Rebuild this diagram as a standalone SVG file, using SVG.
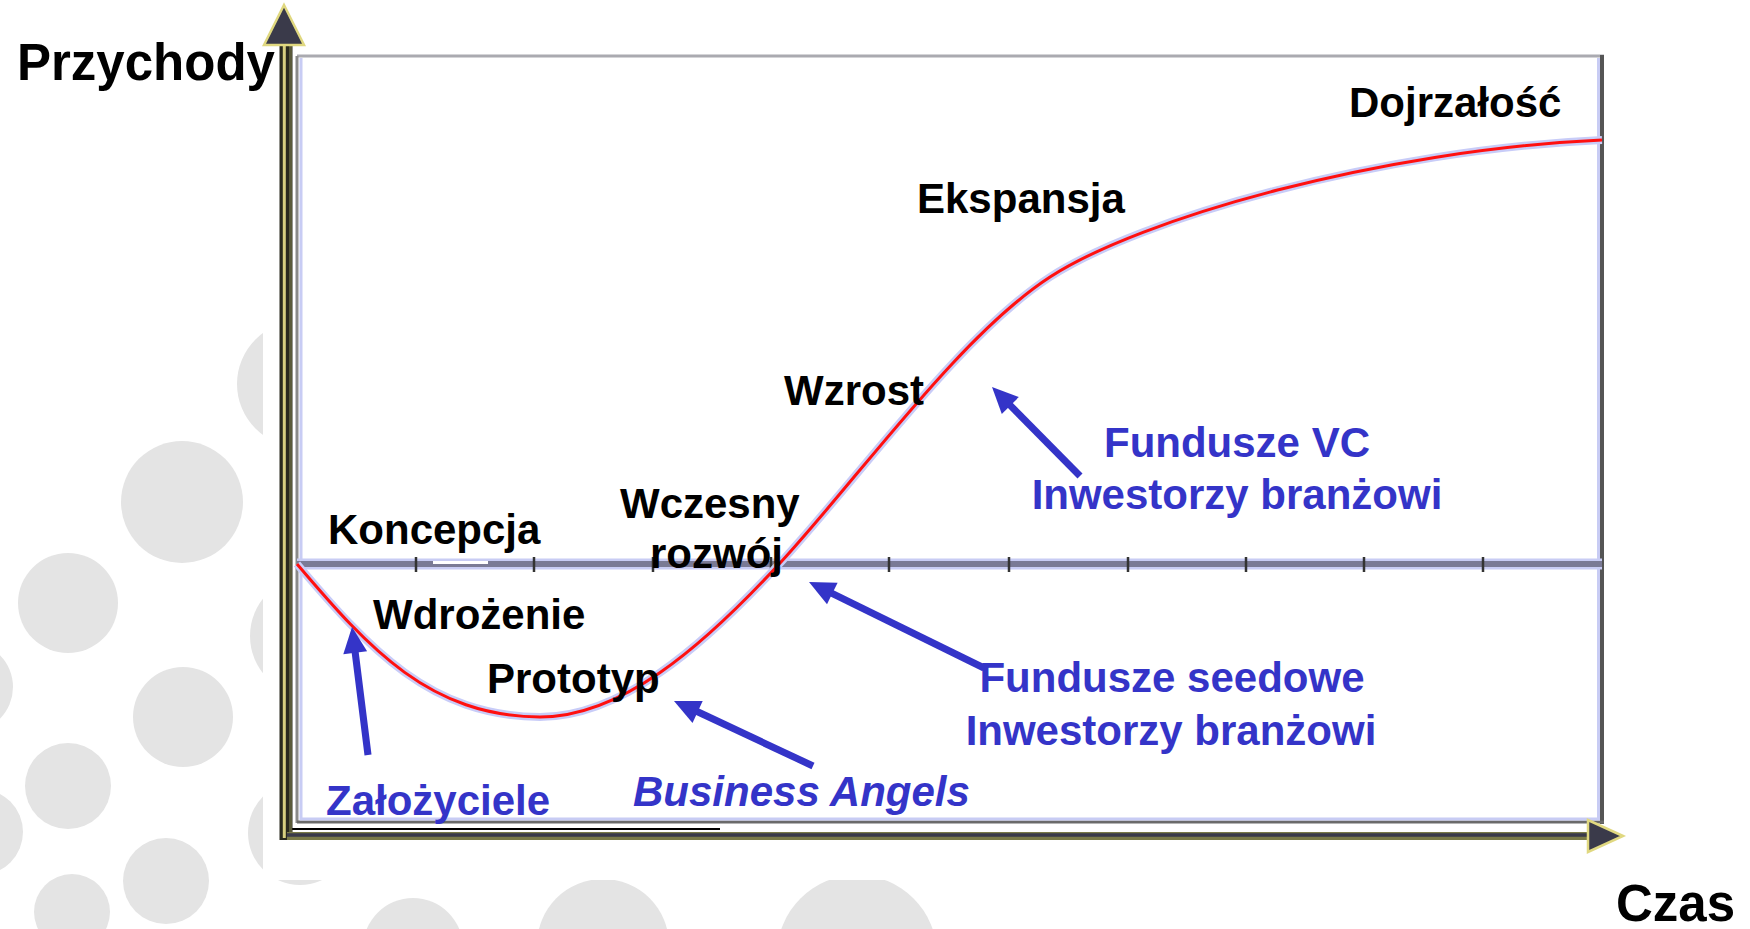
<svg xmlns="http://www.w3.org/2000/svg" width="1750" height="929" viewBox="0 0 1750 929">
<style>
.lbl{font-family:"Liberation Sans",Arial,sans-serif;font-weight:bold;font-size:42px;fill:#000}
.ax{font-family:"Liberation Sans",Arial,sans-serif;font-weight:bold;font-size:51px;fill:#000}
.inv{font-family:"Liberation Sans",Arial,sans-serif;font-weight:bold;font-size:42px;fill:#3434c8}
.mid{text-anchor:middle}
.bg{fill:#e4e4e4}
.shaft{stroke:#3434c8;stroke-width:7;fill:none}
.head{fill:#3434c8}
.tick{stroke:#333;stroke-width:2.5}
</style>
<rect x="0" y="0" width="1750" height="929" fill="#fff"/>
<g id="background">
<circle class="bg" cx="300" cy="384" r="63"/>
<circle class="bg" cx="182" cy="502" r="61"/>
<circle class="bg" cx="68" cy="603" r="50"/>
<circle class="bg" cx="310" cy="636" r="60"/>
<circle class="bg" cx="-32" cy="687" r="45"/>
<circle class="bg" cx="183" cy="717" r="50"/>
<circle class="bg" cx="68" cy="786" r="43"/>
<circle class="bg" cx="-20" cy="832" r="43"/>
<circle class="bg" cx="300" cy="833" r="52"/>
<circle class="bg" cx="166" cy="881" r="43"/>
<circle class="bg" cx="72" cy="912" r="38"/>
<circle class="bg" cx="413" cy="948" r="50"/>
<circle class="bg" cx="603" cy="945" r="66"/>
<circle class="bg" cx="857" cy="955" r="80"/>
<rect x="263" y="0" width="1487" height="880" fill="#fff"/>
</g>
<g id="frame">
<line x1="297" y1="56" x2="1604" y2="56" stroke="#aaaab0" stroke-width="3"/>
<line x1="297" y1="56" x2="297" y2="823" stroke="#8a8a8a" stroke-width="3"/>
<line x1="301" y1="58" x2="301" y2="820" stroke="#c8ccf4" stroke-width="3"/>
<line x1="1602" y1="55" x2="1602" y2="824" stroke="#555" stroke-width="4"/>
<line x1="1598.5" y1="58" x2="1598.5" y2="820" stroke="#c8ccf4" stroke-width="3"/>
<line x1="297" y1="822" x2="1604" y2="822" stroke="#6a6a6a" stroke-width="3"/>
<line x1="300" y1="819" x2="1600" y2="819" stroke="#c8ccf4" stroke-width="3"/>
<line x1="287" y1="829" x2="720" y2="829" stroke="#000" stroke-width="2"/>
</g>
<g id="zero-line">
<line x1="297" y1="564" x2="1602" y2="564" stroke="#c8ccf4" stroke-width="11"/>
<line x1="297" y1="564" x2="1602" y2="564" stroke="#7a7a95" stroke-width="6"/>
<line x1="433" y1="562.5" x2="488" y2="562.5" stroke="#fff" stroke-width="3"/>
<line class="tick" x1="416" y1="557" x2="416" y2="572"/>
<line class="tick" x1="534" y1="557" x2="534" y2="572"/>
<line class="tick" x1="653" y1="557" x2="653" y2="572"/>
<line class="tick" x1="771" y1="557" x2="771" y2="572"/>
<line class="tick" x1="889" y1="557" x2="889" y2="572"/>
<line class="tick" x1="1009" y1="557" x2="1009" y2="572"/>
<line class="tick" x1="1128" y1="557" x2="1128" y2="572"/>
<line class="tick" x1="1246" y1="557" x2="1246" y2="572"/>
<line class="tick" x1="1364" y1="557" x2="1364" y2="572"/>
<line class="tick" x1="1483" y1="557" x2="1483" y2="572"/>
</g>
<g id="curve">
<path d="M297,564 C370,650 430,716 540,717 C620,717 700,650 781,562 C860,476 960,335.5 1050,277 C1140,218.5 1380,150 1602,140" fill="none" stroke="#c8ccf8" stroke-width="8"/>
<path d="M297,564 C370,650 430,716 540,717 C620,717 700,650 781,562 C860,476 960,335.5 1050,277 C1140,218.5 1380,150 1602,140" fill="none" stroke="#ff1010" stroke-width="3"/>
</g>
<g id="axes">
<line x1="286" y1="40" x2="286" y2="840" stroke="#2a2a1e" stroke-width="13"/>
<line x1="284.3" y1="40" x2="284.3" y2="838" stroke="#d8d080" stroke-width="3"/>
<line x1="290.5" y1="40" x2="290.5" y2="832" stroke="#5a5a3a" stroke-width="3"/>
<polygon points="284,5 304,45 264,45" fill="#3a3a4a" stroke="#e0d880" stroke-width="2.5"/>
<line x1="287" y1="836" x2="1595" y2="836" stroke="#7a7a48" stroke-width="8"/>
<line x1="287" y1="835" x2="1595" y2="835" stroke="#3a3a4a" stroke-width="3.3"/>
<polygon points="1623,836 1588,820 1588,852" fill="#3a3a4a" stroke="#e0d880" stroke-width="2.5"/>
</g>
<g id="connectors">
<line class="shaft" x1="368" y1="755" x2="355" y2="651"/>
<polygon class="head" points="352,627 367.1,651.3 343.3,654.3"/>
<line class="shaft" x1="813" y1="766" x2="696" y2="711"/>
<polygon class="head" points="674,701 702.7,701.1 692.5,722.9"/>
<line class="shaft" x1="984" y1="668" x2="830.5" y2="592.6"/>
<polygon class="head" points="809,582 837.6,582.7 827,604.3"/>
<line class="shaft" x1="1080" y1="476" x2="1009" y2="404.1"/>
<polygon class="head" points="992,387 1018.8,397.1 1001.8,413.9"/>
</g>
<g id="label-przychody"><text class="ax" x="17" y="80">Przychody</text></g>
<g id="label-czas"><text class="ax" x="1616" y="921" font-size="50">Czas</text></g>
<g id="label-koncepcja"><text class="lbl" x="328" y="544">Koncepcja</text></g>
<g id="label-wdrozenie"><text class="lbl" x="373" y="629">Wdrożenie</text></g>
<g id="label-prototyp"><text class="lbl" x="487" y="693">Prototyp</text></g>
<g id="label-wczesny"><text class="lbl" x="620" y="518">Wczesny</text><text class="lbl" x="650" y="568">rozwój</text></g>
<g id="label-wzrost"><text class="lbl" x="784" y="405">Wzrost</text></g>
<g id="label-ekspansja"><text class="lbl" x="917" y="213">Ekspansja</text></g>
<g id="label-dojrzalosc"><text class="lbl" x="1349" y="117">Dojrzałość</text></g>
<g id="inv-zalozyciele"><text class="inv" x="326" y="815">Założyciele</text></g>
<g id="inv-ba"><text class="inv" x="633" y="806" font-style="italic">Business Angels</text></g>
<g id="inv-seed"><text class="inv mid" x="1172" y="692">Fundusze seedowe</text><text class="inv mid" x="1171" y="745">Inwestorzy branżowi</text></g>
<g id="inv-vc"><text class="inv mid" x="1237" y="457">Fundusze VC</text><text class="inv mid" x="1237" y="509">Inwestorzy branżowi</text></g>
</svg>
